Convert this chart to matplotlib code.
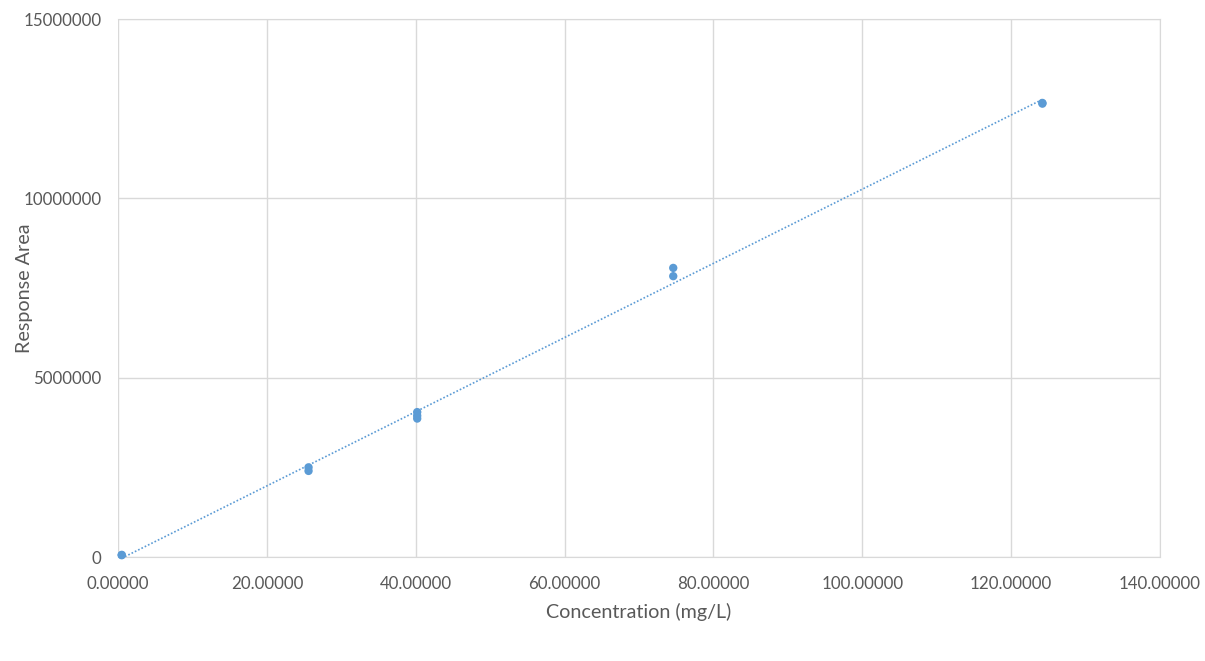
import numpy as np
import matplotlib
matplotlib.use("Agg")
import matplotlib.pyplot as plt
from matplotlib.ticker import FuncFormatter, MultipleLocator

plt.rcParams['font.family'] = ['Lato', 'DejaVu Sans']

concentration = [0.5, 0.5, 25.6, 25.6, 40.2, 40.2, 40.2, 74.6, 74.6, 124.2, 124.2]
response_area = [50000, 60000, 2500000, 2400000, 4040000, 3940000, 3860000, 8060000, 7830000, 12660000, 12640000]

x = np.array(concentration)
y = np.array(response_area)

fig = plt.figure(figsize=(12.05, 6.61), dpi=100)
ax = fig.add_axes([118/1205, 104/661, (1160-118)/1205, (557-19)/661])

grid_c = '#d9d9d9'
text_c = '#595959'
pt_c = '#5b9bd5'

ax.set_xlim(0, 140)
ax.set_ylim(0, 15000000)
ax.xaxis.set_major_locator(MultipleLocator(20))
ax.yaxis.set_major_locator(MultipleLocator(5000000))
ax.xaxis.set_major_formatter(FuncFormatter(lambda v, p: f"{v:.5f}"))
ax.yaxis.set_major_formatter(FuncFormatter(lambda v, p: f"{int(v)}"))
ax.grid(True, color=grid_c, linewidth=1)
ax.set_axisbelow(True)
for s in ax.spines.values():
    s.set_visible(False)
ax.spines['bottom'].set_visible(True)
ax.spines['bottom'].set_color(grid_c)
ax.spines['right'].set_visible(True)
ax.spines['right'].set_color(grid_c)
ax.spines['top'].set_visible(True)
ax.spines['top'].set_color(grid_c)
ax.tick_params(length=0, labelsize=12.2, labelcolor=text_c)
ax.tick_params(axis='x', pad=14)
ax.tick_params(axis='y', pad=12)

# trendline
m, b = np.polyfit(x, y, 1)
xl = np.array([x.min(), x.max()])
ax.plot(xl, m * xl + b, linestyle=(0, (1, 1.2)), color=pt_c, linewidth=1.2, zorder=2)

ax.scatter(x, y, s=36, color=pt_c, zorder=3, edgecolors='none', clip_on=False)

ax.set_xlabel("Concentration (mg/L)", fontsize=14.2, color=text_c, va='center')
ax.xaxis.set_label_coords(0.5, -0.102)
ax.set_ylabel("Response Area", fontsize=14.2, color=text_c, va='center')
ax.yaxis.set_label_coords(-0.0902, 0.5)

fig.savefig("out.png", dpi=100, facecolor='white')
